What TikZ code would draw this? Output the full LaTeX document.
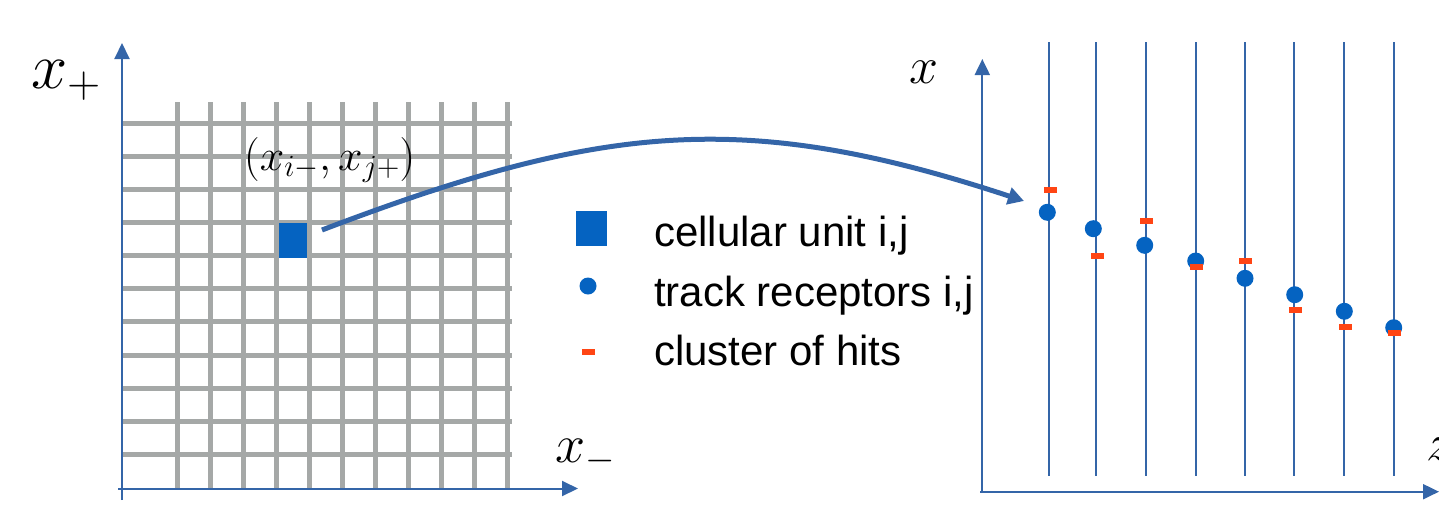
\documentclass[tikz,border=0pt]{standalone}
\usepackage{fix-cm}
\usepackage{fontspec}
\newfontfamily\legendfont{Liberation Sans}
\usetikzlibrary{arrows.meta}
\definecolor{axisblue}{RGB}{52,101,168}
\definecolor{cellblue}{RGB}{5,99,193}
\definecolor{hitred}{RGB}{255,69,20}
\definecolor{gridgray}{RGB}{165,168,167}
\tikzset{
  axisline/.style={draw=axisblue, line width=2pt, -{Triangle[length=16pt,width=15pt]}},
  gridline/.style={draw=gridgray, line width=5pt},
  receptor/.style={draw=axisblue, line width=2.2pt},
  recdot/.style={circle, fill=cellblue, inner sep=0pt, minimum size=17pt},
  hitmark/.style={rectangle, fill=hitred, inner sep=0pt, minimum width=13pt, minimum height=6pt},
  cellsq/.style={rectangle, fill=cellblue, inner sep=0pt},
  legtext/.style={font=\legendfont\fontsize{42}{50}\selectfont, inner sep=0pt, anchor=base west},
  mathlabel/.style={inner sep=0pt, anchor=base west},
  maparrow/.style={draw=axisblue, line width=5pt, -{Triangle[length=16pt,width=17pt]}}
}
\begin{document}
\begin{tikzpicture}[x=1pt,y=-1pt]
\useasboundingbox (0,0) rectangle (1439,504);
% grid
\foreach \k in {0,...,10}{
  \draw[gridline] (177+33*\k,102) -- (177+33*\k,490);
  \draw[gridline] (122,123.3+33.1*\k) -- (512,123.3+33.1*\k);
}
% left axes
\coordinate (lvb) at (122,500);
\coordinate (lvt) at (122,43);
\coordinate (lhb) at (118,488.5);
\coordinate (lht) at (578,488.5);
\draw[axisline] (lvb) -- (lvt);
\draw[axisline] (lhb) -- (lht);
\node[mathlabel, font=\fontsize{65}{78}\selectfont] (xplus) at (31,88) {$x_+$};
\node[mathlabel, font=\fontsize{54}{64}\selectfont] (xminus) at (555,462) {$x_-$};
% cell
\node[cellsq, minimum width=28pt, minimum height=35pt] (cell) at (292.5,240.5) {};
\node[mathlabel, font=\fontsize{44}{52}\selectfont] (celllabel) at (244,170) {$(x_{i-},x_{j+})$};
% right axes
\coordinate (rvb) at (982.3,493);
\coordinate (rvt) at (982.3,59);
\coordinate (rhb) at (980,491.7);
\coordinate (rht) at (1439,491.7);
\draw[axisline] (rvb) -- (rvt);
\draw[axisline] (rhb) -- (rht);
\node[mathlabel, font=\fontsize{52}{62}\selectfont] (xlab) at (909,83.5) {$x$};
\node[mathlabel, font=\fontsize{52}{62}\selectfont] (zlab) at (1426,460) {$z$};
% receptor lines
\foreach \xx in {1048.7,1096.3,1146,1195.7,1245,1294.3,1344.3,1393.7}{
  \draw[receptor] (\xx,42.3) -- (\xx,475.7);
}
% receptors
\foreach \xx/\yy [count=\i] in {1047.3/212.3,1093.3/228.7,1144.7/245.3,1195.7/261,1245/278.3,1294.7/294.7,1344.3/311.3,1393.7/327.7}{
  \node[recdot] (r\i) at (\xx,\yy) {};
}
% hits
\foreach \xx/\yy [count=\i] in {1050.7/190,1097/256,1146.7/221.3,1196.3/267.3,1245.7/260.7,1295.3/310.3,1345/326.7,1394.3/333.3}{
  \node[hitmark] (h\i) at (\xx,\yy) {};
}
% mapping arrow
\coordinate (astart) at (322,230);
\coordinate (aend) at (1024,201);
\draw[maparrow] (astart) .. controls (602,123.6) and (744,108.6) .. (aend);
% legend
\node[cellsq, minimum width=31pt, minimum height=35pt] (lsq) at (591.5,228.5) {};
\node[recdot] (ldot) at (588,286) {};
\node[hitmark] (lhit) at (588.5,351.5) {};
\node[legtext] (l1) at (654,246) {cellular unit i,j};
\node[legtext] (l2) at (654,306.7) {track receptors i,j};
\node[legtext] (l3) at (654,365.7) {cluster of hits};
\end{tikzpicture}
\end{document}
